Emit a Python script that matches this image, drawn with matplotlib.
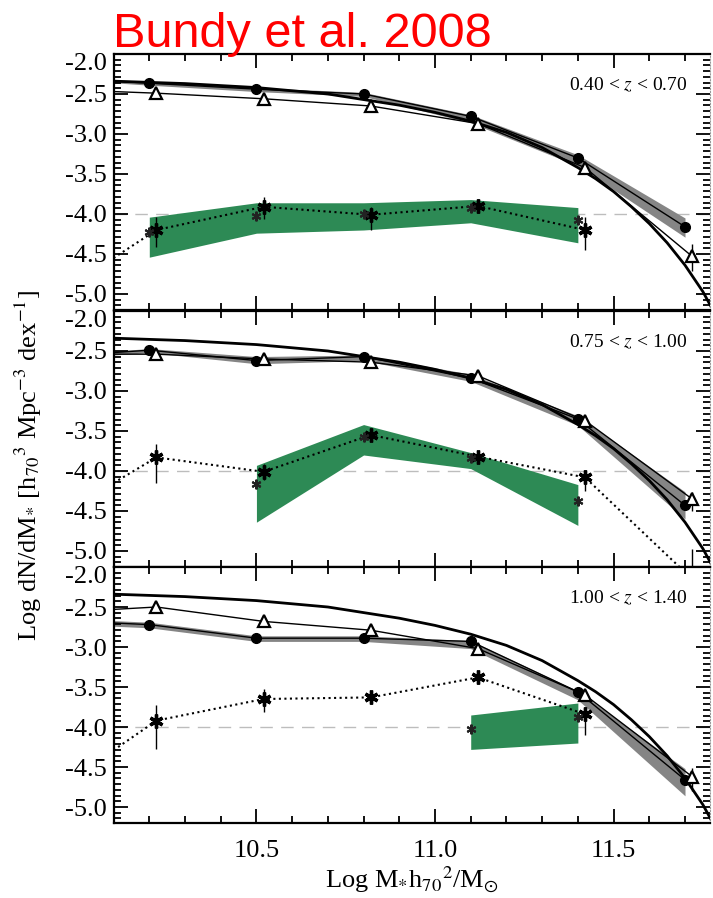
import numpy as np
import matplotlib
matplotlib.use('Agg')
import matplotlib.pyplot as plt
import matplotlib.transforms as mtrans
from matplotlib.ticker import MultipleLocator, AutoMinorLocator, FuncFormatter

plt.rcParams['font.family'] = ['Liberation Serif', 'DejaVu Serif']
plt.rcParams['mathtext.fontset'] = 'stix'
plt.rcParams['axes.unicode_minus'] = False

# mass bins (circles, small stars) and offset bins (triangles, big stars)
mass = [10.2, 10.5, 10.8, 11.1, 11.4, 11.7]
mass_off = [10.22, 10.52, 10.82, 11.12, 11.42, 11.72]
x_edge = 10.1

# local reference Schechter curve (same in every panel)
sch_x = [10.1, 10.3, 10.5, 10.7, 10.9, 11.0, 11.1, 11.2, 11.3, 11.4, 11.45,
         11.5, 11.55, 11.6, 11.65, 11.7, 11.75, 11.8]
sch_y = [-2.34, -2.37, -2.42, -2.50, -2.64, -2.73, -2.84, -2.98, -3.17, -3.42,
         -3.56, -3.72, -3.91, -4.12, -4.36, -4.64, -4.97, -5.38]

labels = ['0.40 < $z$ < 0.70', '0.75 < $z$ < 1.00', '1.00 < $z$ < 1.40']

# filled circles
circ = [[-2.365, -2.44, -2.50, -2.78, -3.30, -4.16],
        [-2.49, -2.62, -2.57, -2.84, -3.35, -4.43],
        [-2.72, -2.89, -2.89, -2.93, -3.56, -4.66]]
circ_edge = [-2.34, -2.52, -2.70]

# open triangles
tri = [[-2.49, -2.56, -2.65, -2.87, -3.42, -4.53],
       [-2.54, -2.60, -2.64, -2.81, -3.37, -4.35],
       [-2.50, -2.68, -2.79, -3.02, -3.60, -4.62]]
tri_edge = [-2.47, -2.54, -2.53]
tri_err_up = [0.15, 0.09, 0.11]
tri_err_dn = [0.18, 0.15, 0.18]

# gray band around the circles (edge + mass bins)
band_hi = [[-2.32, -2.345, -2.42, -2.48, -2.76, -3.26, -4.05],
           [-2.50, -2.47, -2.57, -2.55, -2.79, -3.31, -4.26],
           [-2.67, -2.69, -2.86, -2.86, -2.92, -3.55, -4.52]]
band_lo = [[-2.36, -2.39, -2.47, -2.53, -2.86, -3.40, -4.29],
           [-2.55, -2.52, -2.66, -2.62, -2.88, -3.43, -4.60],
           [-2.74, -2.76, -2.93, -2.93, -3.02, -3.66, -4.86]]

# big asterisks with error bars
star = [[-4.20, -3.91, -4.01, -3.90, -4.20],
        [-3.83, -4.01, -3.55, -3.82, -4.08, -5.35],
        [-3.92, -3.65, -3.63, -3.38, -3.84]]
star_up = [[0.16, 0.12, 0.10, 0.09, 0.16],
           [0.17, 0.10, 0.08, 0.06, 0.09, 0.38],
           [0.19, 0.13, 0.06, 0.06, 0.09]]
star_dn = [[0.21, 0.15, 0.19, 0.09, 0.25],
           [0.32, 0.10, 0.08, 0.07, 0.17, 0.30],
           [0.36, 0.16, 0.08, 0.08, 0.26]]
star_edge = [-4.55, -4.15, -4.29]

# small asterisks
small = [[-4.22, -4.02, -4.00, -3.93, -4.08],
         [np.nan, -4.16, -3.57, -3.84, -4.37],
         [np.nan, np.nan, np.nan, -4.02, -3.88]]

# green band
green_x = [[10.2, 10.5, 10.8, 11.1, 11.4],
           [10.5, 10.8, 11.1, 11.4],
           [11.1, 11.4]]
green_hi = [[-4.04, -3.86, -3.86, -3.82, -3.92],
            [-3.93, -3.42, -3.77, -4.17],
            [-3.85, -3.70]]
green_lo = [[-4.54, -4.24, -4.20, -4.11, -4.36],
            [-4.64, -3.80, -3.97, -4.68],
            [-4.28, -4.20]]

fig = plt.figure(figsize=(7.13, 8.98), dpi=100)
bottoms = [0.6548, 0.3686, 0.0835]
star_mk = (6, 2, 0)


def ylab(v, pos):
    # top label is drawn separately so it sits below the panel edge
    if abs(v + 2.0) < 1e-6:
        return ''
    return '%.1f' % v


for i in range(3):
    ax = fig.add_axes([0.1593, bottoms[i], 0.8365, 0.2851])

    ax.axhline(-4.0, color='#bdbdbd', lw=1, dashes=(9, 6), zorder=0)

    ax.fill_between([x_edge] + mass, band_hi[i], band_lo[i], color='#858585', lw=0, zorder=1)
    ax.fill_between(green_x[i], green_hi[i], green_lo[i], color='#2d8a55', lw=0, zorder=1)

    ax.plot(sch_x, sch_y, color='black', lw=2, zorder=3)
    ax.plot([x_edge] + mass, [circ_edge[i]] + circ[i], color='black', lw=1, zorder=3)
    ax.plot([x_edge] + mass_off, [tri_edge[i]] + tri[i], color='black', lw=1, zorder=3)

    ax.plot(mass, circ[i], 'o', color='black', ms=7, zorder=5)
    ax.plot(mass_off, tri[i], '^', mfc='white', mec='black', mew=1.6, ms=8, zorder=5)
    ax.errorbar(mass_off[-1], tri[i][-1], yerr=[[tri_err_dn[i]], [tri_err_up[i]]],
                fmt='none', ecolor='black', elinewidth=1, zorder=4)

    n = len(star[i])
    sx = mass_off[:n]
    ax.plot([x_edge] + sx, [star_edge[i]] + star[i], ':', color='black', lw=1.5, zorder=4)
    ax.errorbar(sx, star[i], yerr=[star_dn[i], star_up[i]], fmt='none',
                ecolor='black', elinewidth=1, zorder=4)
    ax.plot(sx, star[i], ls='none', marker=star_mk, ms=10, mew=2.4, color='black', zorder=6)
    ax.plot(mass[:5], small[i], ls='none', marker=star_mk, ms=7, mew=1.5,
            color='#222222', zorder=6)

    ax.text(0.963, 0.88, labels[i], transform=ax.transAxes, ha='right', va='center',
            fontsize=14)

    ax.set_xlim(10.1, 11.77)
    ax.set_ylim(-5.2, -2.0)
    ax.xaxis.set_major_locator(MultipleLocator(0.5))
    ax.xaxis.set_minor_locator(MultipleLocator(0.1))
    ax.yaxis.set_major_locator(MultipleLocator(0.5))
    ax.yaxis.set_minor_locator(AutoMinorLocator(7))
    ax.yaxis.set_major_formatter(FuncFormatter(ylab))
    ax.tick_params(which='both', direction='in', top=True, right=True, width=1.3)
    ax.tick_params(which='major', length=10, labelsize=19, pad=5)
    ax.tick_params(which='minor', length=5)
    ax.tick_params(axis='x', pad=12)
    for s in ['left', 'top', 'bottom']:
        ax.spines[s].set_linewidth(1.6)
    ax.spines['right'].set_linestyle(':')
    ax.spines['right'].set_color('#999999')

    top_tr = ax.transAxes + mtrans.ScaledTranslation(-5 / 72, 1 / 72, fig.dpi_scale_trans)
    ax.text(0, 1, '%.1f' % -2.0, transform=top_tr, ha='right', va='top', fontsize=19)

    if i < 2:
        ax.tick_params(axis='x', labelbottom=False)
    else:
        ax.set_xticks([10.5, 11.0, 11.5])
        ax.set_xlabel(r'Log M$_{*}$h$_{70}$$^{2}$/M$_{\odot}$', fontsize=19, labelpad=2)

fig.text(0.04, 0.482, r'Log dN/dM$_{*}$ [h$_{70}$$^{3}$ Mpc$^{-3}$ dex$^{-1}$]',
         rotation=90, ha='center', va='center', fontsize=19)
fig.text(0.158, 0.948, 'Bundy et al. 2008', color='red', fontsize=35,
         family='Liberation Sans', ha='left', va='baseline')

plt.savefig('out.png', dpi=100)
